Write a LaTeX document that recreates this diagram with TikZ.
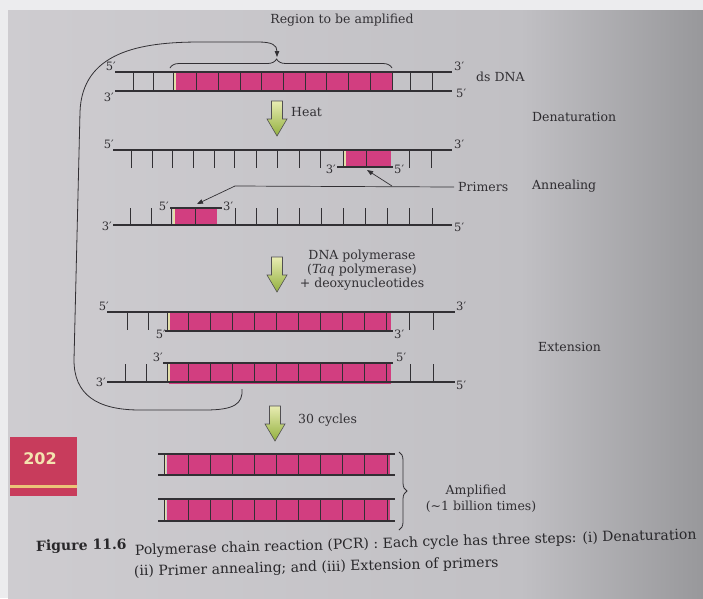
\documentclass[tikz,border=0pt]{standalone}
\usepackage{fontspec}
\setmainfont{DejaVu Serif}
\newfontfamily\foliofont{DejaVu Sans}
\usetikzlibrary{arrows.meta,decorations.pathreplacing}

\definecolor{margin}{RGB}{236,236,238}
\definecolor{paperlight}{RGB}{206,204,208}
\definecolor{papermid}{RGB}{193,192,196}
\definecolor{paperdark}{RGB}{152,152,155}
\definecolor{ink}{RGB}{50,48,52}
\definecolor{dnapink}{RGB}{210,62,128}
\definecolor{pale}{RGB}{226,222,168}
\definecolor{arrowtop}{RGB}{232,236,178}
\definecolor{arrowbot}{RGB}{146,176,62}
\definecolor{foliored}{RGB}{200,60,92}
\definecolor{folioyellow}{RGB}{236,196,120}
\definecolor{foliotext}{RGB}{244,228,176}

% green process arrow: #1 = x of axis, #2 = top y, #3 = tip y
\newcommand\greenarrow[3]{%
  \path[draw=ink!85, line width=0.6pt, top color=arrowtop, bottom color=arrowbot]
    (#1-5.5,#2) -- (#1+5.5,#2) -- (#1+5.5,#3-17) -- (#1+10,#3-17) -- (#1,#3)
    -- (#1-10,#3-17) -- (#1-5.5,#3-17) -- cycle;}

\tikzset{
  strand/.style={draw=ink, line width=1.2pt},
  rung/.style={draw=ink, line width=0.9pt},
  paleedge/.style={draw=pale, line width=1.6pt},
  lbl/.style={text=ink, inner sep=0pt, font=\fontsize{12.5}{14}\selectfont},
  endlbl/.style={text=ink, inner sep=0pt, font=\fontsize{11.5}{13}\selectfont},
  steplbl/.style={text=ink!90!black, inner sep=0pt, font=\fontsize{12.5}{14}\selectfont},
  captext/.style={text=ink!80!black, inner sep=0pt, font=\fontsize{14}{16}\selectfont},
  pointer/.style={draw=ink, line width=0.7pt, -{Triangle[length=6pt,width=4.5pt]}},
  cyclepath/.style={draw=ink, line width=0.8pt, -{Triangle[length=6pt,width=4.5pt]}},
  bracket/.style={draw=ink, line width=0.8pt, decorate},
}

\begin{document}
\begin{tikzpicture}[x=1pt, y=-1pt]
\useasboundingbox (0,0) rectangle (703,598);

% page background
\fill[margin] (0,0) rectangle (703,598);
\shade[left color=paperlight, right color=papermid] (8,10) rectangle (520,598);
\shade[left color=papermid, right color=paperdark] (520,10) rectangle (703,598);

% ---------- double-stranded DNA ----------
\node[lbl] (region) at (342,20) {Region to be amplified};
\fill[dnapink] (175,72) rectangle (393,92);
\draw[paleedge] (175,72) -- (175,91);
\foreach \x in {133,153,173,410,432} \draw[rung] (\x,72) -- (\x,91);
\foreach \k in {1,...,10} \draw[rung] ({175+21.7*\k},72) -- ({175+21.7*\k},91);
\draw[strand] (115,72) -- (452,72);
\draw[strand] (115,91) -- (452,91);
\node[endlbl, anchor=south east] (ds5) at (116,71) {5′};
\node[endlbl, anchor=north east] (ds3) at (114,93) {3′};
\node[endlbl, anchor=south west] (ds3r) at (454,71) {3′};
\node[endlbl, anchor=west] (ds5r) at (456,93) {5′};
\node[lbl, anchor=west] (dsdna) at (476,77) {ds DNA};

\draw[bracket, decoration={brace, amplitude=9pt, aspect=0.48}] (170,68) -- (392,68);
\coordinate (bracetip) at (277,57);

% ---------- denaturation ----------
\greenarrow{277}{101}{136}
\node[lbl, anchor=west] (heat) at (291,112) {Heat};
\node[steplbl, anchor=west] (denat) at (532,117) {Denaturation};

% ---------- annealing: upper strand ----------
\fill[dnapink] (345,150) rectangle (391,168);
\draw[paleedge] (345,150) -- (345,167);
\foreach \x in {131,152,172,193,214,234,256,277,299,320,343,409,431} \draw[rung] (\x,150) -- (\x,168);
\draw[rung] (366,150) -- (366,167);
\draw[strand] (113,150) -- (452,150);
\draw[strand] (337,167) -- (393,167);
\node[endlbl, anchor=south east] (a5) at (114,149) {5′};
\node[endlbl, anchor=south west] (a3r) at (454,149) {3′};
\node[endlbl, anchor=east] (p3) at (336,169) {3′};
\node[endlbl, anchor=west] (p5) at (394,169) {5′};

% ---------- annealing: lower strand ----------
\fill[dnapink] (174,208) rectangle (217,226);
\draw[paleedge] (174,208) -- (174,225);
\foreach \x in {130,151,171,235,256,277,299,321,343,365,387,409,432} \draw[rung] (\x,225) -- (\x,208);
\draw[rung] (195,208) -- (195,225);
\draw[strand] (113,225) -- (452,225);
\draw[strand] (170,208) -- (222,208);
\node[endlbl, anchor=east] (b3) at (112,226) {3′};
\node[endlbl, anchor=west] (b5r) at (454,227) {5′};
\node[endlbl, anchor=east] (q5) at (169,206) {5′};
\node[endlbl, anchor=west] (q3) at (223,206) {3′};

% primer pointers
\node[lbl, anchor=west, inner xsep=4pt] (primers) at (454,187) {Primers};
\node[steplbl, anchor=west] (anneal) at (532,186) {Annealing};
\coordinate (pbend) at (235,186);
\coordinate (pjoin) at (392,186);
\coordinate (tipA) at (367,170);
\coordinate (tipB) at (197,204);
\draw[pointer] (primers.west) -- (pbend) -- (tipB);
\draw[pointer] (pjoin) -- (tipA);

% ---------- extension ----------
\greenarrow{277}{257}{292}
\node[lbl] (pol1) at (362,256) {DNA polymerase};
\node[lbl] (pol2) at (362,270) {(\textit{Taq} polymerase)};
\node[lbl] (pol3) at (362,284) {+ deoxynucleotides};

% first product
\fill[dnapink] (169,312) rectangle (391,332);
\draw[paleedge] (169,312) -- (169,331);
\foreach \x in {127,148,167,409,433} \draw[rung] (\x,312) -- (\x,330);
\foreach \k in {1,...,10} \draw[rung] ({167+21.9*\k},312) -- ({167+21.9*\k},331);
\draw[strand] (107,312) -- (455,312);
\draw[strand] (165,331) -- (393,331);
\node[endlbl, anchor=south east] (e5) at (109,311) {5′};
\node[endlbl, anchor=north east] (e5n) at (166,330) {5′};
\node[endlbl, anchor=south west] (e3r) at (456,311) {3′};
\node[endlbl, anchor=west] (e3n) at (394,334) {3′};

% second product
\fill[dnapink] (169,363) rectangle (391,384);
\draw[paleedge] (169,363) -- (169,382);
\foreach \x in {125,146,167,410,433} \draw[rung] (\x,364) -- (\x,382);
\foreach \k in {1,...,10} \draw[rung] ({167+21.9*\k},363) -- ({167+21.9*\k},382);
\draw[strand] (163,363) -- (393,363);
\draw[strand] (107,382) -- (455,382);
\node[endlbl, anchor=south east] (f3n) at (163,362) {3′};
\node[endlbl, anchor=south west] (f5n) at (396,362) {5′};
\node[endlbl, anchor=east] (f3) at (106,382) {3′};
\node[endlbl, anchor=west] (f5r) at (456,385) {5′};
\node[steplbl, anchor=west] (extend) at (538,347) {Extension};

% cycle back to the target region
\coordinate (cyclestart) at (242,389);
\draw[cyclepath] (cyclestart) .. controls (243,404) and (234,410) .. (205,410)
  -- (140,410) .. controls (96,410) and (74,394) .. (74,360)
  -- (80,112) .. controls (82,52) and (140,42) .. (200,42)
  -- (258,42) .. controls (272,42) and (277,45) .. (bracetip);

% ---------- amplification ----------
\greenarrow{275}{406}{441}
\node[lbl, anchor=west] (cycles) at (298,420) {30 cycles};

\foreach \yt/\yb in {454/475, 499/521} {
  \fill[dnapink] (167,\yt) rectangle (390,\yb+1);
  \draw[paleedge] (165.5,\yt) -- (165.5,\yb);
  \draw[rung] (164,\yt) -- (164,\yb);
  \foreach \k in {1,...,10} \draw[rung] ({166+22.1*\k},\yt) -- ({166+22.1*\k},\yb);
  \draw[strand] (158,\yt) -- (395,\yt);
  \draw[strand] (158,\yb) -- (395,\yb);
}
\draw[bracket, decoration={brace, amplitude=8pt}] (399,452) -- (399,530);
\node[lbl] (ampl1) at (476,491) {Amplified};
\node[lbl] (ampl2) at (481,507) {(\textasciitilde1 billion times)};

% page number tab
\fill[foliored] (10,437) rectangle (77,485);
\fill[folioyellow] (10,485) rectangle (77,488);
\fill[foliored] (10,488) rectangle (77,496);
\node[text=foliotext, font=\foliofont\bfseries\fontsize{16}{18}\selectfont] (folio) at (40,459) {202};

% caption
\node[captext, anchor=base west, rotate=1.2] (figlbl) at (36,551) {\textbf{Figure 11.6}};
\node[captext, anchor=base west, rotate=1.6] (cap1) at (135,555) {Polymerase chain reaction (PCR) : Each cycle has three steps: (i) Denaturation};
\node[captext, anchor=base west, rotate=1.4] (cap2) at (134,576) {(ii) Primer annealing; and (iii) Extension of primers};
\end{tikzpicture}
\end{document}
